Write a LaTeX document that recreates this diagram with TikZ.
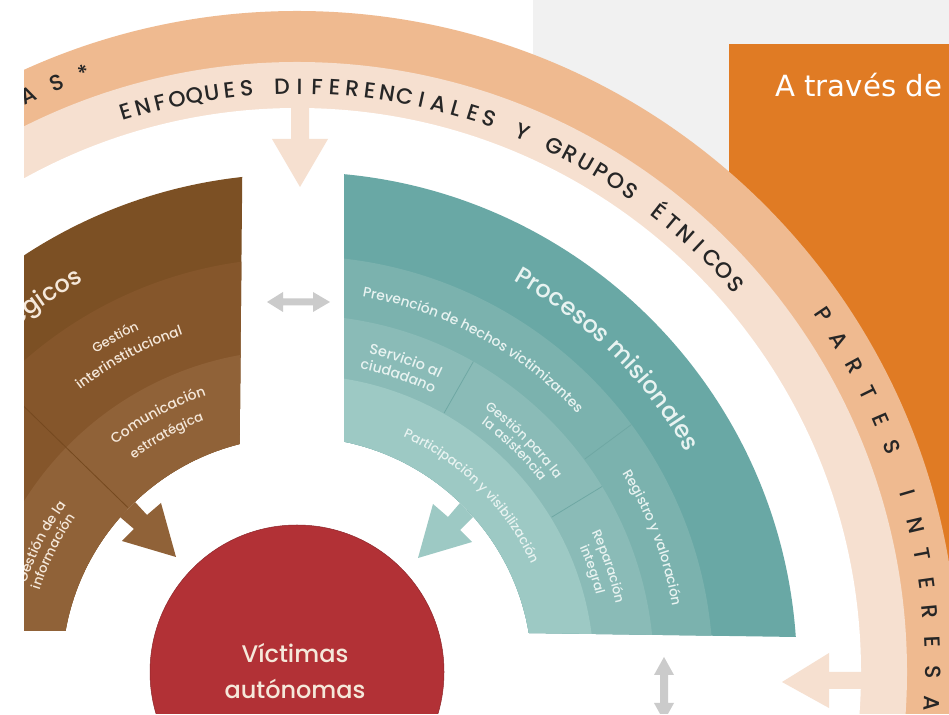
\documentclass[tikz,border=0pt]{standalone}
\usepackage{fontspec}
\setmainfont{Poppins}[UprightFont=* Medium]
\newfontfamily\djv{DejaVu Sans}
\usetikzlibrary{decorations.text}
\definecolor{ringdark}{HTML}{EFBA90}
\definecolor{ringlight}{HTML}{F6E0D0}
\definecolor{panelgray}{HTML}{F1F1F1}
\definecolor{boxorange}{HTML}{E07B24}
\definecolor{redcore}{HTML}{B23136}
\definecolor{tealA}{HTML}{69A8A5}
\definecolor{tealB}{HTML}{7BB2AE}
\definecolor{tealC}{HTML}{8ABBB7}
\definecolor{tealD}{HTML}{9DC9C4}
\definecolor{tealLine}{HTML}{6FA8A4}
\definecolor{brownA}{HTML}{7C5024}
\definecolor{brownB}{HTML}{85562B}
\definecolor{brownC}{HTML}{906238}
\definecolor{brownLine}{HTML}{75491F}
\definecolor{tealText}{HTML}{E8F3F1}
\definecolor{brownText}{HTML}{F5E8DA}
\definecolor{arrowgray}{HTML}{CBCBCB}
\newcommand{\ringfnt}{\fontsize{22}{22}\selectfont}
\tikzset{
  img/.style={x=1pt,y=-1pt,shift={(0pt,714pt)}},
  ringletter/.style={font=\fontsize{22}{22}\selectfont,text=black!85,inner sep=0pt},
  ringword/.style={font=\ringfnt,text=black!85,inner sep=0pt,anchor=base},
  centertext/.style={font=\fontsize{24}{24}\selectfont,text=brownText,inner sep=0pt,anchor=base}
}
% radius, from-vertical start, from-vertical end, format, text
\newcommand{\arctext}[5]{%
  \path[shift={(297,42)},decorate,decoration={text along path,text align=center,text={|#4|#5}}]
    ({90-(#2)+20}:#1) arc[start angle={90-(#2)+20},end angle={90-(#3)-20},radius=#1];}
\newcommand{\tl}[1]{\color{tealText}\fontsize{#1}{#1}\selectfont}
\newcommand{\bl}[1]{\color{brownText}\fontsize{#1}{#1}\selectfont}
\newlength\lw
\newlength\tw
\newcommand{\ringchars}{E,N,F,O,Q,U,E,S,~,D,I,F,E,R,E,N,C,I,A,L,E,S,~,Y,~,G,R,U,P,O,S,~,É,T,N,I,C,O,S}
\begin{document}
\begin{tikzpicture}[x=1pt,y=1pt]
\useasboundingbox (0,0) rectangle (949,714);
\fill[white] (0,0) rectangle (949,714);
\fill[panelgray] (533,0) rectangle (949,714);
\fill[boxorange] (729,0) rectangle (949,670);
\node[font=\djv\fontsize{29.2}{29.2}\selectfont,text=white,anchor=base west,inner sep=0pt] (lead) at (775,617.5) {A través de};
\begin{scope}
\clip (24,0) rectangle (949,714);
\coordinate (C) at (297,42);
% rings
\fill[ringdark] (C) circle[radius=661];
\fill[ringlight] (C) circle[radius=610];
\fill[white] (C) circle[radius=564];
% teal sector
\begin{scope}
\clip[img] (344,100) -- (344,633) -- (529,633) -- (796,637) -- (900,637) -- (900,100) -- cycle;
\fill[tealA,even odd rule] (C) circle[radius=500] (C) circle[radius=235];
\fill[tealB,even odd rule] (C) circle[radius=416] (C) circle[radius=235];
\fill[tealC,even odd rule] (C) circle[radius=357] (C) circle[radius=235];
\fill[tealD,even odd rule] (C) circle[radius=297] (C) circle[radius=235];
\end{scope}
\begin{scope}[shift={(297,42)},tealLine,line width=.8pt]
\draw (36.5:358) -- (36.5:416);
\draw (60.4:298) -- (60.4:357);
\draw (31.3:298) -- (31.3:357);
\end{scope}
% brown sector
\begin{scope}
\clip[img] (243,100) -- (239.5,460) -- (239.5,631) -- (0,631) -- (0,100) -- cycle;
\fill[brownA,even odd rule] (C) circle[radius=498] (C) circle[radius=235];
\fill[brownB,even odd rule] (C) circle[radius=414] (C) circle[radius=235];
\fill[brownC,even odd rule] (C) circle[radius=322] (C) circle[radius=235];
\end{scope}
\draw[shift={(297,42)},brownLine,line width=.8pt] (135.8:236) -- (135.8:414);
% sector arrows
\fill[img,brownC] (135,502) -- (147,515) -- (161,503) -- (176,557) -- (122,541) -- (134,529) -- (120,517) -- cycle;
\fill[img,tealD] (460,503) -- (448,517) -- (433,504) -- (418,558) -- (472,542) -- (460,530) -- (473,517) -- cycle;
% ring arrows
\fill[img,ringlight] (291,105) -- (309,105) -- (309,139) -- (328,139) -- (300,187) -- (272,139) -- (291,139) -- cycle;
\fill[img,ringlight] (862,672) -- (829,672) -- (829,653) -- (782,682) -- (829,708) -- (829,689) -- (862,689) -- cycle;
% gray double arrows
\fill[img,arrowgray] (267,302) -- (283,292) -- (283,298.5) -- (313,298.5) -- (313,292) -- (330,302) -- (313,312) -- (313,305.5) -- (283,305.5) -- (283,312) -- cycle;
\fill[img,arrowgray] (664,657) -- (674,675) -- (668,675) -- (668,703) -- (674,703) -- (664,721) -- (654,703) -- (660,703) -- (660,675) -- (654,675) -- cycle;
% core
\node[circle,fill=redcore,draw=redcore!80!black,line width=.5pt,minimum size=294pt,inner sep=0pt] (core) at (C) {};
\node[centertext] (v1) at (295,51) {Víctimas};
\node[centertext] (v2) at (295,16) {autónomas};
% ring lettering, light ring
\global\tw=0pt
\foreach \l in \ringchars {\settowidth\lw{\ringfnt\l}\global\advance\tw by\lw}
\pgfmathsetmacro\spc{(661-\the\tw)/38}
\xdef\acc{-17}
\foreach \l [count=\i] in \ringchars {
  \settowidth\lw{\ringfnt\l}
  \pgfmathsetmacro\ang{\acc+(\the\lw/2)/578*57.296}
  \node[ringword,name=ef\i,rotate={0-\ang}] at ([shift={(297,42)}]{90-\ang}:578) {\l};
  \pgfmathsetmacro\nx{\acc+(\the\lw+\spc)/578*57.296}
  \xdef\acc{\nx}
}
% ring lettering, dark ring
\foreach \l/\a [count=\i] in {A/-25,S/-22.2,*/-19.6,P/55.8,A/58.5,R/61.2,T/63.9,E/66.6,S/69.3,I/73.7,N/76.7,T/79.3,E/82,R/84.6,E/87.3,S/90,A/92.8}
  \node[ringletter,name=rl\i,rotate={-\a}] at ([shift={(297,42)}]{90-\a}:636) {\l};
% teal labels
\arctext{447}{28.5}{61}{\tl{24}}{Procesos misionales}
\arctext{381}{9.2}{48}{\tl{13.8}}{Prevención de hechos victimizantes}
\arctext{326}{12.5}{26}{\tl{14.5}}{Servicio al}
\arctext{310}{11.7}{26}{\tl{14}}{ciudadano}
\arctext{323}{34.8}{54}{\tl{13}}{Gestión para la}
\arctext{309}{36}{52.5}{\tl{13}}{la asistencia}
\arctext{258}{21.5}{68}{\tl{13}}{Participación y visibilización}
\arctext{381}{57.6}{81}{\tl{13.5}}{Registro y valoración}
\arctext{326}{64}{78.6}{\tl{13}}{Reparación}
\arctext{309}{65.7}{76}{\tl{13}}{integral}
% brown labels
\path[shift={(297,42)},decorate,decoration={text along path,text align=right,text={|\bl{24}|Procesos estratégicos}}]
  (180:445) arc[start angle=180,end angle={90+28.7},radius=445];
\arctext{377}{-33}{-24}{\bl{13}}{Gestión}
\arctext{356}{-37.7}{-18.5}{\bl{13.8}}{interinstitucional}
\arctext{291}{-38.8}{-18}{\bl{14}}{Comunicación}
\arctext{268}{-38}{-19.8}{\bl{13}}{estrratégica}
\arctext{285}{-72}{-54}{\bl{13.5}}{Gestión de la}
\arctext{270}{-73}{-54.5}{\bl{13.2}}{información}
\end{scope}
\end{tikzpicture}
\end{document}
